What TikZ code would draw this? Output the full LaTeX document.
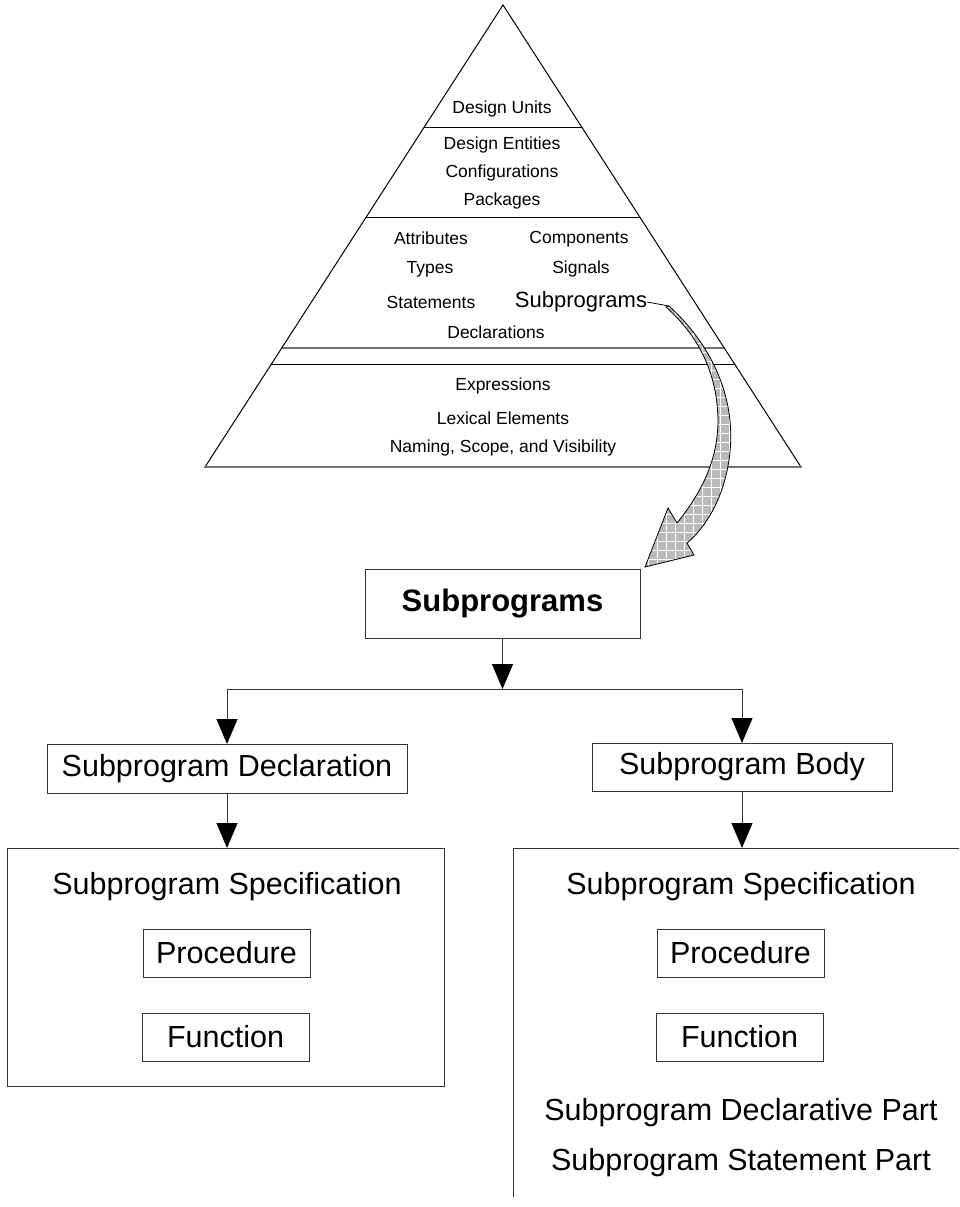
\documentclass[tikz,border=0pt]{standalone}
\usepackage{fontspec}
\setmainfont{Liberation Sans}
\usetikzlibrary{arrows.meta,patterns.meta}
\begin{document}
\begin{tikzpicture}[x=1pt,y=-1pt,
  every node/.style={inner sep=0pt,outer sep=0pt},
  small/.style={font=\fontsize{17.5}{20}\selectfont},
  mid/.style={font=\fontsize{22}{25}\selectfont},
  large/.style={font=\fontsize{30.5}{34}\selectfont},
  box/.style={draw=black!80,line width=1pt},
  edge/.style={draw=black,line width=1pt},
  tier/.style={draw=black,line width=1pt},
  graytier/.style={draw=black!55,line width=1.5pt},
  link/.style={draw=black!80,line width=1pt},
  arr/.style={link,-{Triangle[width=21pt,length=25pt,color=black]}},
]
\useasboundingbox (0,0) rectangle (959,1207);

% ---- pyramid of language levels ----
\coordinate (apex) at (503,5);
\coordinate (bl) at (205,467);
\coordinate (br) at (801,467);
\begin{scope}
  \clip (apex) -- (bl) -- (br) -- cycle;
  \draw[tier] (150,127) -- (850,127);
  \draw[tier] (150,217) -- (850,217);
  \draw[graytier] (150,348) -- (850,348);
  \draw[tier] (150,364) -- (850,364);
\end{scope}
\draw[edge] (apex) -- (bl) -- (br) -- cycle;
\draw[graytier] (bl) -- (br);

\node[small] (du) at (502,109) {Design Units};
\node[small] (de) at (502,145) {Design Entities};
\node[small] (cf) at (502,173) {Configurations};
\node[small] (pk) at (502,201) {Packages};
\node[small] (at) at (431,238) {Attributes};
\node[small] (cp) at (579,239) {Components};
\node[small] (ty) at (430,269) {Types};
\node[small] (sg) at (581,269) {Signals};
\node[small] (st) at (431,302) {Statements};
\node[mid]   (ps) at (581,302) {Subprograms};
\node[small] (dc) at (496,332) {Declarations};
\node[small] (ex) at (503,386) {Expressions};
\node[small] (lx) at (503,418) {Lexical Elements};
\node[small] (nm) at (503,448) {Naming, Scope, and Visibility};

% ---- curved block arrow down to the detail ----
\coordinate (tail) at (669,306);
\draw[line width=0.8pt] (ps.east) -- (tail);
\path[preaction={fill=gray!55},
      preaction={pattern={Hatch[angle=0,distance=9pt,line width=0.7pt]},pattern color=white},
      draw=black, line width=0.8pt, line join=miter]
  (tail) .. controls (712,345) and (738,400) .. (729,460)
         .. controls (723,500) and (705,528) .. (687,543)
  -- (694,555) -- (645,567) -- (668,508) -- (677,523)
         .. controls (697,498) and (718,465) .. (718,420)
         .. controls (717,370) and (697,335) .. (666,307) -- cycle;

% ---- subprogram breakdown ----
\node[box,font=\fontsize{31}{34}\selectfont\bfseries,
      minimum width=275pt,minimum height=69pt] (sub) at (502.5,603.5) {Subprograms};
\coordinate (split) at (502.5,689);

\node[box,large,minimum width=360pt,minimum height=49pt] (decl) at (227,768.5) {Subprogram Declaration};
\node[box,large,minimum width=300pt,minimum height=48pt] (body) at (742,767) {Subprogram Body};

\draw[arr] (sub) -- (split);
\draw[link] (decl.north |- split) -- (body.north |- split);
\draw[arr] (decl.north |- split) -- (decl.north);
\draw[arr] (body.north |- split) -- (body.north);

% left detail box
\node[box,minimum width=437pt,minimum height=238pt] (lbox) at (225.5,967) {};
\node[large] (lspec) at (227,887) {Subprogram Specification};
\node[box,large,minimum width=167pt,minimum height=48pt] (lproc) at (226.5,953) {Procedure};
\node[box,large,minimum width=167pt,minimum height=48pt] (lfunc) at (225.5,1037) {Function};
\draw[arr] (decl.south) -- (decl.south |- lbox.north);

% right detail box (runs past the page edge)
\coordinate (rtop) at (513,848);
\draw[box] (513,1197) -- (rtop) -- (959,848);
\node[large] (rspec) at (741,887) {Subprogram Specification};
\node[box,large,minimum width=167pt,minimum height=48pt] (rproc) at (740.5,953) {Procedure};
\node[box,large,minimum width=167pt,minimum height=48pt] (rfunc) at (739.5,1037) {Function};
\node[large] (rdecl) at (741,1113) {Subprogram Declarative Part};
\node[large] (rstat) at (741,1163) {Subprogram Statement Part};
\draw[arr] (body.south) -- (body.south |- rtop);

\end{tikzpicture}
\end{document}
